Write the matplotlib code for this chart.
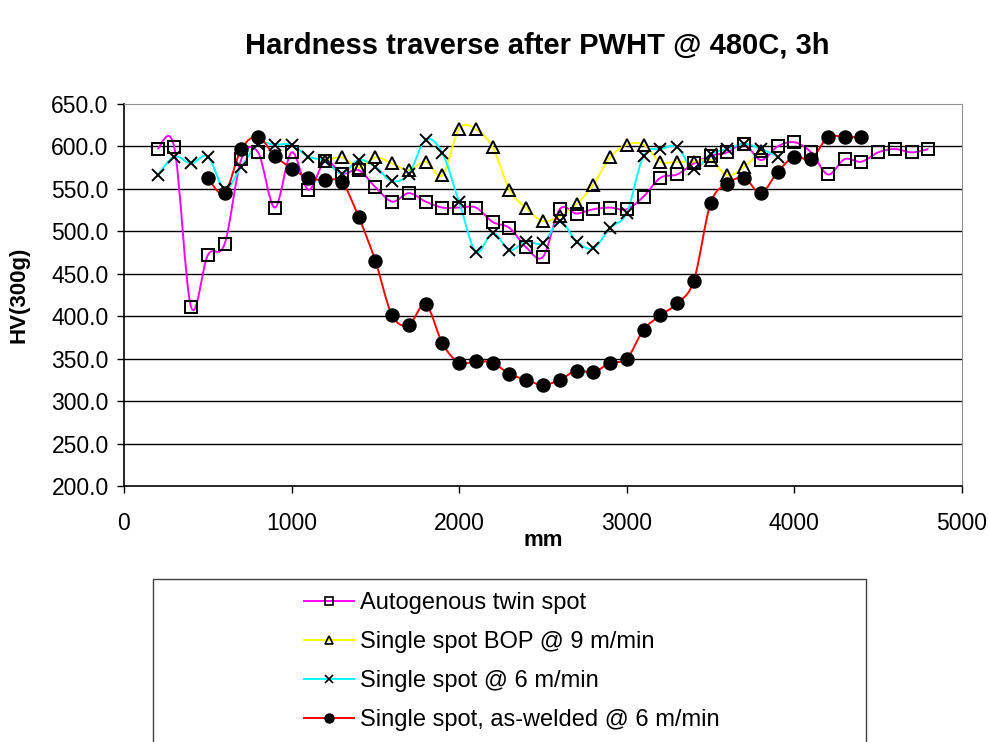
import matplotlib
matplotlib.use('Agg')
import matplotlib.pyplot as plt
from matplotlib.path import Path
from matplotlib.patches import PathPatch, Rectangle
from matplotlib.lines import Line2D

plt.rcParams['font.family'] = ['Liberation Sans', 'DejaVu Sans']

# Autogenous twin spot
x_twin = [200, 300, 400, 500, 600, 700, 800, 900, 1000, 1100, 1200, 1300, 1400, 1500,
          1600, 1700, 1800, 1900, 2000, 2100, 2200, 2300, 2400, 2500, 2600, 2700, 2800,
          2900, 3000, 3100, 3200, 3300, 3400, 3500, 3600, 3700, 3800, 3900, 4000, 4100,
          4200, 4300, 4400, 4500, 4600, 4700, 4800]
hv_twin = [597, 599, 411, 472, 485, 585, 593, 528, 593, 549, 583, 568, 572, 552,
           535, 545, 535, 528, 528, 528, 511, 504, 481, 470, 526, 521, 526,
           528, 526, 541, 563, 567, 580, 589, 593, 603, 584, 600, 605, 593,
           567, 585, 582, 593, 597, 593, 597]

# Single spot BOP @ 9 m/min
x_bop = [1200, 1300, 1400, 1500, 1600, 1700, 1800, 1900, 2000, 2100, 2200, 2300, 2400,
         2500, 2600, 2700, 2800, 2900, 3000, 3100, 3200, 3300, 3400, 3500, 3600, 3700, 3800]
hv_bop = [583, 587, 575, 587, 580, 572, 582, 566, 621, 620, 599, 549, 527,
          512, 518, 532, 555, 587, 602, 602, 582, 582, 582, 584, 566, 576, 595]

# Single spot @ 6 m/min
x_six = [200, 300, 400, 500, 600, 700, 800, 900, 1000, 1100, 1200, 1300, 1400, 1500,
         1600, 1700, 1800, 1900, 2000, 2100, 2200, 2300, 2400, 2500, 2600, 2700, 2800,
         2900, 3000, 3100, 3200, 3300, 3400, 3500, 3600, 3700, 3800, 3900]
hv_six = [566, 588, 580, 588, 550, 576, 603, 602, 602, 588, 583, 568, 584, 576,
          559, 568, 608, 592, 534, 476, 498, 478, 488, 486, 512, 488, 480,
          504, 522, 589, 597, 599, 573, 591, 597, 603, 597, 588]

# Single spot, as-welded @ 6 m/min
x_weld = [500, 600, 700, 800, 900, 1000, 1100, 1200, 1300, 1400, 1500, 1600, 1700,
          1800, 1900, 2000, 2100, 2200, 2300, 2400, 2500, 2600, 2700, 2800, 2900, 3000,
          3100, 3200, 3300, 3400, 3500, 3600, 3700, 3800, 3900, 4000, 4100, 4200, 4300, 4400]
hv_weld = [563, 545, 597, 611, 589, 574, 563, 560, 558, 517, 465, 401, 390,
           414, 368, 345, 347, 345, 332, 325, 319, 325, 336, 334, 345, 350,
           384, 401, 415, 442, 533, 556, 563, 545, 570, 588, 585, 611, 611, 611]

labels = ['Autogenous twin spot', 'Single spot BOP @ 9 m/min',
          'Single spot @ 6 m/min', 'Single spot, as-welded @ 6 m/min']


# smoothed line like Excel (catmull-rom as cubic bezier)
def smooth_path(x, y):
    n = len(x)
    verts = [(x[0], y[0])]
    codes = [Path.MOVETO]
    for i in range(n - 1):
        a = i - 1 if i > 0 else i
        d = i + 2 if i + 2 < n else i + 1
        c1 = (x[i] + (x[i + 1] - x[a]) / 6, y[i] + (y[i + 1] - y[a]) / 6)
        c2 = (x[i + 1] - (x[d] - x[i]) / 6, y[i + 1] - (y[d] - y[i]) / 6)
        verts += [c1, c2, (x[i + 1], y[i + 1])]
        codes += [Path.CURVE4] * 3
    return Path(verts, codes)


fig = plt.figure(figsize=(9.88, 7.42), dpi=100)
ax = fig.add_axes([124 / 988, 1 - 486 / 742, (962 - 124) / 988, (486 - 104) / 742])

series = [
    (x_twin, hv_twin, '#FF00FF', 's', 'none', 8),
    (x_bop, hv_bop, '#FFFF00', '^', 'none', 9),
    (x_six, hv_six, '#00FFFF', 'x', 'black', 9),
    (x_weld, hv_weld, '#FF0000', 'o', 'black', 9),
]

handles = []
for k, (xs, ys, col, mk, fc, ms) in enumerate(series):
    ax.add_patch(PathPatch(smooth_path(xs, ys), fill=False, edgecolor=col,
                           lw=1.4, zorder=3 + k))
    ax.plot(xs, ys, linestyle='none', marker=mk, markersize=ms,
            markerfacecolor=fc, markeredgecolor='black', markeredgewidth=1.4,
            zorder=10 + k)
    handles.append(Line2D([], [], color=col, lw=1.4, marker=mk, markersize=ms * 0.7,
                          markerfacecolor=fc, markeredgecolor='black',
                          markeredgewidth=1.2))

ax.set_xlim(0, 5000)
ax.set_ylim(200, 650)
ax.set_xticks([0, 1000, 2000, 3000, 4000, 5000])
ax.set_yticks([200, 250, 300, 350, 400, 450, 500, 550, 600, 650])
ax.set_yticklabels(['%.1f' % v for v in ax.get_yticks()])
ax.tick_params(direction='out', length=5, width=1, labelsize=16.5)
ax.tick_params(axis='x', pad=14)
ax.tick_params(axis='y', pad=6)

for v in [250, 300, 350, 400, 450, 500, 550, 600]:
    ax.axhline(v, color='black', lw=1, zorder=1)

ax.spines['top'].set_color('#909090')
ax.spines['right'].set_color('#909090')
ax.spines['left'].set_linewidth(1.2)
ax.spines['bottom'].set_linewidth(1.2)

ax.set_xlabel('mm', fontsize=16, fontweight='bold', labelpad=-4)
ax.set_ylabel('HV(300g)', fontsize=16, fontweight='bold', labelpad=16)
fig.text(537 / 988, 1 - 46 / 742, 'Hardness traverse after PWHT @ 480C, 3h',
         ha='center', va='center', fontsize=21, fontweight='bold')

# legend box (runs off the bottom edge as in the original)
fig.patches.append(Rectangle((153 / 988, -0.05), (866 - 153) / 988, 1 - 579 / 742 + 0.05,
                             transform=fig.transFigure, fill=False,
                             edgecolor='#404040', lw=1))
fig.legend(handles, labels, loc='upper center', bbox_to_anchor=(512 / 988, 1 - 571 / 742),
           frameon=False, fontsize=17, handlelength=2.1, handletextpad=0.25,
           labelspacing=0.72)

fig.savefig('out.png', dpi=100)
